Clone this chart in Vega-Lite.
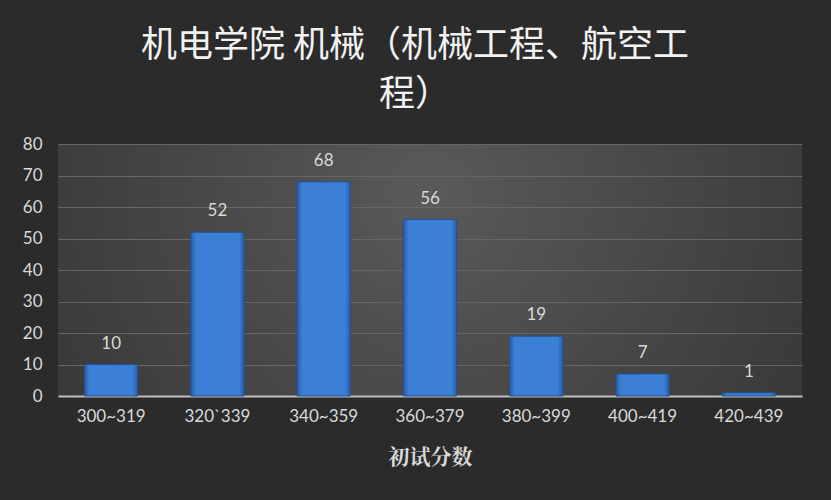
{
  "$schema": "https://vega.github.io/schema/vega-lite/v6.json",
  "width": 744,
  "height": 252,
  "autosize": {"type": "none"},
  "padding": {"left": 58, "top": 144, "right": 29, "bottom": 104},
  "background": "#2b2b2b",
  "title": {
    "text": ["机电学院 机械（机械工程、航空工", "程）"],
    "font": "Noto Sans CJK SC",
    "fontSize": 36,
    "fontWeight": "normal",
    "color": "#f2f2f2",
    "lineHeight": 49,
    "anchor": "middle",
    "dx": -15,
    "offset": 21
  },
  "data": {
    "values": [
      {"range": "300~319", "count": 10},
      {"range": "320`339", "count": 52},
      {"range": "340~359", "count": 68},
      {"range": "360~379", "count": 56},
      {"range": "380~399", "count": 19},
      {"range": "400~419", "count": 7},
      {"range": "420~439", "count": 1}
    ]
  },
  "encoding": {
    "x": {
      "field": "range",
      "type": "nominal",
      "sort": null,
      "title": "初试分数",
      "scale": {"paddingInner": 0.5, "paddingOuter": 0.25},
      "axis": {
        "labelAngle": 0,
        "labelFont": "Lato",
        "labelFontSize": 17,
        "labelColor": "#d9d9d9",
        "labelPadding": 12,
        "ticks": false,
        "domainColor": "#bfbfbf",
        "domainWidth": 2,
        "titleFont": "Noto Serif CJK SC",
        "titleFontSize": 21,
        "titleFontWeight": "bold",
        "titleColor": "#d9d9d9",
        "titlePadding": 22
      }
    },
    "y": {
      "field": "count",
      "type": "quantitative",
      "title": null,
      "scale": {"domain": [0, 80]},
      "axis": {
        "values": [0, 10, 20, 30, 40, 50, 60, 70, 80],
        "labelFont": "Lato",
        "labelFontSize": 17,
        "labelColor": "#d9d9d9",
        "labelPadding": 16,
        "ticks": false,
        "domain": false,
        "grid": true,
        "gridColor": "#666666",
        "gridWidth": 1
      }
    }
  },
  "layer": [
    {
      "mark": {
        "type": "bar",
        "fill": {
          "gradient": "linear",
          "x1": 0, "y1": 0, "x2": 1, "y2": 0,
          "stops": [
            {"offset": 0, "color": "#2a5ea8"},
            {"offset": 0.1, "color": "#3b80d6"},
            {"offset": 0.9, "color": "#3b80d6"},
            {"offset": 1, "color": "#2a5ea8"}
          ]
        },
        "stroke": "#24508f",
        "strokeWidth": 1
      }
    },
    {
      "mark": {
        "type": "text",
        "baseline": "alphabetic",
        "dy": -16,
        "font": "Lato",
        "fontSize": 17,
        "color": "#d9d9d9"
      },
      "encoding": {"text": {"field": "count", "type": "quantitative"}}
    }
  ],
  "config": {
    "view": {
      "stroke": null,
      "fill": {
        "gradient": "radial",
        "x1": 0.5, "y1": 0.4, "r1": 0,
        "x2": 0.5, "y2": 0.4, "r2": 0.75,
        "stops": [
          {"offset": 0, "color": "#5a5a5a"},
          {"offset": 1, "color": "#2e2e2e"}
        ]
      }
    }
  }
}
